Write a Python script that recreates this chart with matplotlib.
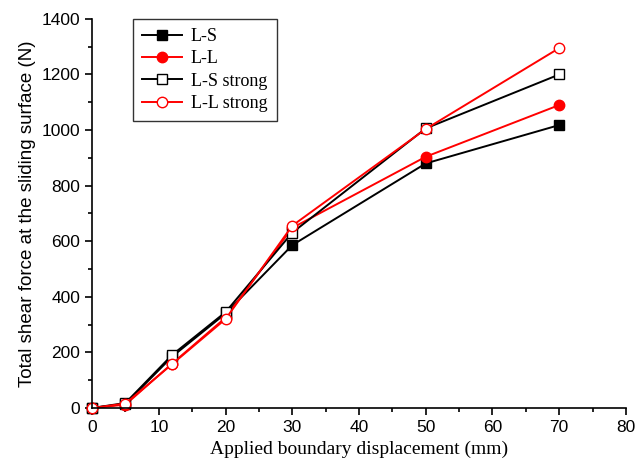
import matplotlib
matplotlib.use("Agg")
import matplotlib.pyplot as plt
from matplotlib.ticker import MultipleLocator

# displacement (mm) and shear force (N)
disp = [0, 5, 12, 20, 30, 50, 70]
ls = [0, 15, 185, 340, 586, 880, 1018]
ll = [0, 12, 160, 325, 648, 904, 1090]
ls_strong = [0, 18, 191, 345, 631, 1006, 1200]
ll_strong = [0, 16, 158, 320, 656, 1004, 1295]

fig = plt.figure(figsize=(6.44, 4.61), dpi=100)
ax = fig.add_axes([0.143, 0.115, 0.829, 0.844])

ax.plot(disp, ls, color='black', marker='s', ms=7, lw=1.4, label='L-S', clip_on=False)
ax.plot(disp, ll, color='red', marker='o', ms=7.5, lw=1.4, label='L-L', clip_on=False)
ax.plot(disp, ls_strong, color='black', marker='s', ms=7, lw=1.4, mfc='white',
        label='L-S strong', clip_on=False)
ax.plot(disp, ll_strong, color='red', marker='o', ms=7.5, lw=1.4, mfc='white',
        label='L-L strong', clip_on=False)

ax.set_xlim(0, 80)
ax.set_ylim(0, 1400)
ax.xaxis.set_major_locator(MultipleLocator(10))
ax.xaxis.set_minor_locator(MultipleLocator(5))
ax.yaxis.set_major_locator(MultipleLocator(200))
ax.yaxis.set_minor_locator(MultipleLocator(100))
ax.spines['top'].set_visible(False)
ax.spines['right'].set_visible(False)
ax.spines['left'].set_linewidth(1.2)
ax.spines['bottom'].set_linewidth(1.2)
ax.tick_params(which='major', length=5, width=1.2, labelsize=12.5)
ax.tick_params(which='minor', length=3, width=1.2)
for lab in ax.get_xticklabels() + ax.get_yticklabels():
    lab.set_family('Liberation Sans')

ax.set_xlabel('Applied boundary displacement (mm)', family='Liberation Serif', fontsize=14)
ax.set_ylabel('Total shear force at the sliding surface (N)', family='Liberation Sans', fontsize=13.5)

leg = ax.legend(loc='upper left', bbox_to_anchor=(0.077, 1.0), borderaxespad=0,
                frameon=True, fancybox=False, edgecolor='black',
                prop={'family': 'Liberation Serif', 'size': 13},
                handlelength=2.2, handletextpad=0.5, borderpad=0.5, labelspacing=0.3)
leg.get_frame().set_linewidth(1.0)
leg.set_zorder(5)

fig.savefig('out.png', dpi=100)
